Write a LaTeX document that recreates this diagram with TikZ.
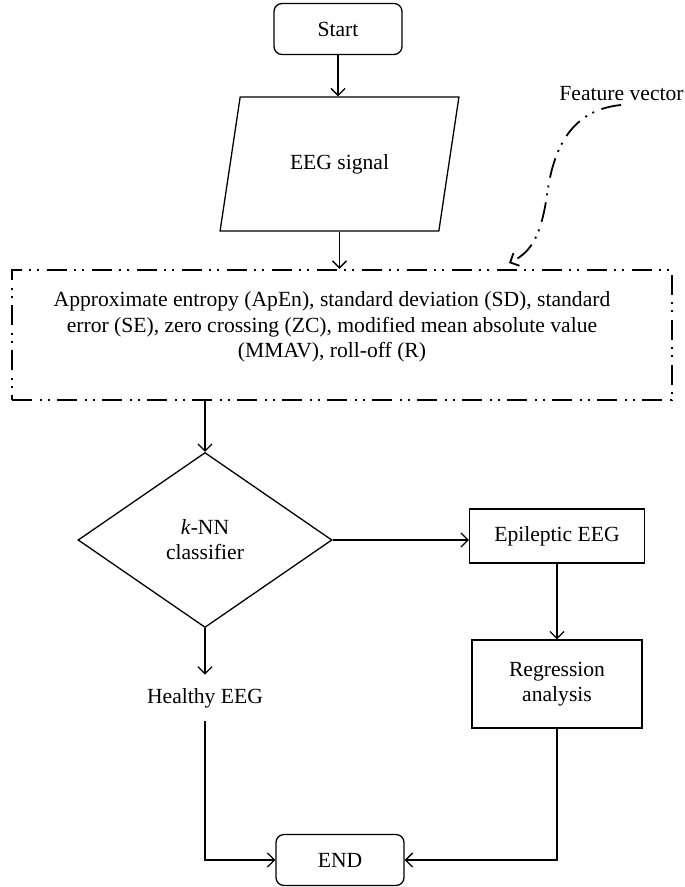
\documentclass[tikz,border=0pt]{standalone}
\usepackage{fontspec}
\setmainfont{Liberation Serif}
\usetikzlibrary{shapes,arrows.meta}
\usetikzlibrary{positioning,calc}

\begin{document}
\begin{tikzpicture}[x=0.5pt,y=-0.5pt,>={Straight Barb[length=3.5pt,width=7pt]},font=\fontsize{10.8}{12.6}\selectfont]
\tikzstyle{term}=[rounded corners=4pt,draw,line width=0.65pt,minimum width=64pt,minimum height=25.5pt]
\tikzstyle{proc}=[rectangle,draw,line width=0.65pt,align=center]
\tikzstyle{ln}=[line width=0.65pt]
\tikzstyle{dashdotdot}=[line width=1.2pt,dash pattern=on 10pt off 4pt on 1pt off 3pt on 1pt off 3.5pt]
\useasboundingbox (0,0) rectangle (684,887);
\node[term] (start) at (338,29) {Start};
\node[trapezium,trapezium left angle=71,trapezium right angle=109,trapezium stretches,
  draw,line width=0.65pt,minimum width=119.5pt,minimum height=67pt] (sig) at (339.5,164) {EEG signal};
\node[draw,dashdotdot,minimum width=330pt,minimum height=65pt] (feat) at (342,335) {};
\node[align=center] (feattxt) at (332,327)
  {Approximate entropy (ApEn), standard deviation (SD), standard\\
   error (SE), zero crossing (ZC), modified mean absolute value\\
   (MMAV), roll-off (R)};
\node[diamond,draw,line width=0.65pt,inner sep=0pt,minimum width=127pt,minimum height=87.5pt,align=center] (knn) at (205,540)
  {\textit{k}-NN\\classifier};
\node[proc,minimum width=87.5pt,minimum height=27pt] (epi) at (557,536) {Epileptic EEG};
\node[proc,minimum width=85pt,minimum height=44pt] (reg) at (557,684) {Regression\\analysis};
\node[inner sep=0pt,minimum height=23pt] (hea) at (205,698) {Healthy EEG};
\node[term] (end) at (340,860) {END};
\node[anchor=east,inner sep=0pt] (fv) at (684,94) {Feature vector};
\coordinate (fvend) at (509,263);

\draw[ln,->] (start.south) -- (start.south |- sig.north);
\draw[ln,->] (sig.south) -- (sig.south |- feat.north);
\draw[ln,->] (feat.south -| knn.north) -- (knn.north);
\draw[ln,->] (knn.east) -- (knn.east -| epi.west);
\draw[ln,->] (epi.south) -- (reg.north);
\draw[ln,->] (knn.south) -- (hea.north);
\draw[ln,->] (hea.south) |- (end.west);
\draw[ln,->] (reg.south) |- (end.east);
\draw[dashdotdot,line width=0.9pt,->] (621,105) .. controls (570,110) and (553,150) .. (547,195)
  .. controls (541,235) and (532,252) .. (fvend);
\end{tikzpicture}
\end{document}
